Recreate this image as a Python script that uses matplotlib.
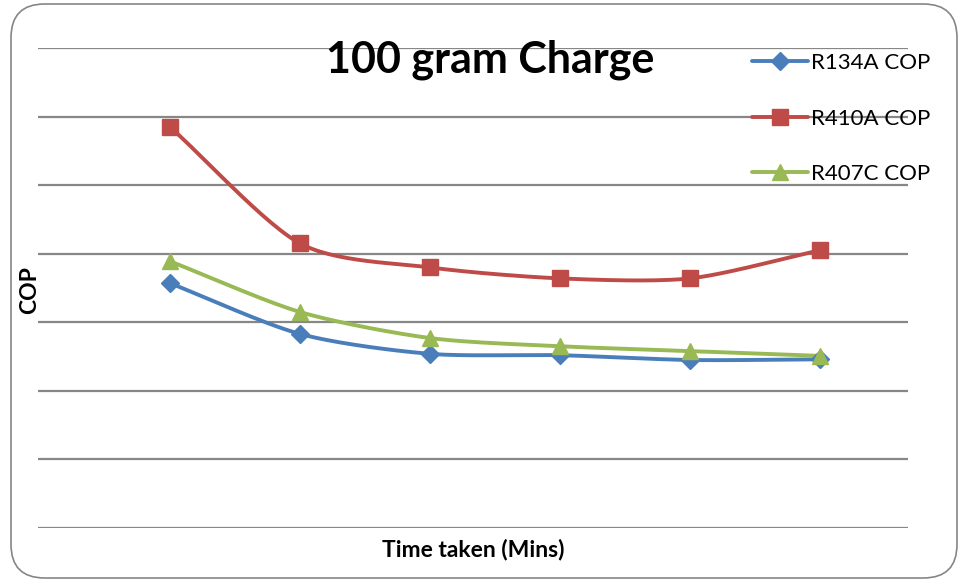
import numpy as np
import matplotlib
matplotlib.use("Agg")
import matplotlib.pyplot as plt
from matplotlib.patches import FancyBboxPatch

times = [1, 2, 3, 4, 5, 6]
r134a = [3.57, 2.83, 2.54, 2.52, 2.45, 2.46]
r410a = [5.85, 4.15, 3.80, 3.64, 3.64, 4.05]
r407c = [3.89, 3.15, 2.77, 2.65, 2.58, 2.51]
labels = ["R134A COP", "R410A COP", "R407C COP"]
colors = ["#4A7EBB", "#BE4B48", "#98B954"]
markers = ["D", "s", "^"]

FONT = ["Lato", "DejaVu Sans"]


def smooth(x, y, n=30):
    # Catmull-Rom smoothing of the drawn line (Excel "smoothed line" style)
    x = np.asarray(x, float); y = np.asarray(y, float)
    px = np.concatenate([[2 * x[0] - x[1]], x, [2 * x[-1] - x[-2]]])
    py = np.concatenate([[2 * y[0] - y[1]], y, [2 * y[-1] - y[-2]]])
    xs, ys = [], []
    t = np.linspace(0, 1, n)
    for i in range(1, len(px) - 2):
        for arr, out in ((px, xs), (py, ys)):
            p0, p1, p2, p3 = arr[i - 1], arr[i], arr[i + 1], arr[i + 2]
            m1 = (p2 - p0) / 2 * 0.8
            m2 = (p3 - p1) / 2 * 0.8
            h00 = 2 * t**3 - 3 * t**2 + 1
            h10 = t**3 - 2 * t**2 + t
            h01 = -2 * t**3 + 3 * t**2
            h11 = t**3 - t**2
            out.extend(h00 * p1 + h10 * m1 + h01 * p2 + h11 * m2)
    return np.array(xs), np.array(ys)


fig = plt.figure(figsize=(9.61, 5.82), dpi=100)
fig.patch.set_facecolor("white")

border = FancyBboxPatch((11 / 961, 4 / 582), 946 / 961, 574 / 582,
                        boxstyle="round,pad=0,rounding_size=0.035",
                        transform=fig.transFigure, fill=False,
                        edgecolor="#868686", linewidth=1.2,
                        mutation_aspect=961 / 582)
fig.patches.append(border)

ax = fig.add_axes([38 / 961, 1 - 528 / 582, 870 / 961, 480 / 582])
ax.set_ylim(0, 7)
ax.set_xlim(1 - 132 / 130, 1 + 738 / 130)
for v in range(0, 8):
    ax.axhline(v, color="#878787", linewidth=1.6, zorder=1)
for s in ax.spines.values():
    s.set_visible(False)
ax.set_xticks([]); ax.set_yticks([])
ax.patch.set_alpha(0)

msizes = [9, 11, 11]
for ys, lab, c, m, ms in zip([r134a, r410a, r407c], labels, colors, markers, msizes):
    sx, sy = smooth(times, ys)
    ax.plot(sx, sy, color=c, linewidth=2.8, zorder=3, solid_capstyle="round")
    ax.plot(times, ys, linestyle="none", marker=m, color=c, markersize=ms, zorder=4, clip_on=False)
    ax.plot([], [], color=c, marker=m, markersize=ms, linewidth=2.8, label=lab,
            solid_capstyle="round")

leg = ax.legend(loc="upper left", bbox_to_anchor=(752 / 961, 1 - 53 / 582),
                bbox_transform=fig.transFigure, frameon=False,
                prop={"family": FONT, "size": 16}, handlelength=2.5,
                handletextpad=0.15, labelspacing=1.6, borderaxespad=0, borderpad=0)

fig.text(490 / 961, 1 - 60 / 582, "100 gram Charge", ha="center", va="center",
         fontsize=31, fontweight="bold", family=FONT)
fig.text(30 / 961, 1 - 290 / 582, "COP", ha="center", va="center", rotation=90,
         fontsize=16.5, fontweight="bold", family=FONT)
fig.text(473 / 961, 1 - 550 / 582, "Time taken (Mins)", ha="center", va="center",
         fontsize=16.5, fontweight="bold", family=FONT)

fig.savefig("out.png", dpi=100)
